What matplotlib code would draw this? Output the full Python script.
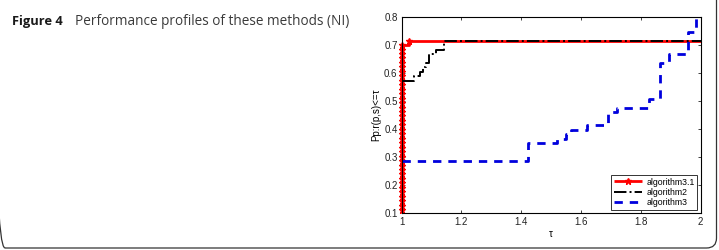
import matplotlib
matplotlib.use('Agg')
import matplotlib.pyplot as plt
from matplotlib.patches import FancyBboxPatch

plt.rcParams['font.family'] = ['Liberation Sans', 'DejaVu Sans']

n_problems = 63

# algorithm3.1 : (tau, number of problems solved within tau), only the visible part
tau_31 = [1.0] * 38 + [1.025, 2.0]
cnt_31 = [7, 8, 9, 10, 11, 12, 13, 14, 15, 16, 17, 18, 19, 20, 21, 22,
          23, 24, 25, 26, 27, 28, 29, 30, 31, 32, 33, 34, 35, 36, 37, 38, 39, 40, 41, 42,
          43, 44, 45, 45]

# algorithm2
tau_2 = [1.0, 1.04, 1.06, 1.07, 1.08, 1.09, 1.115, 1.14, 2.0]
cnt_2 = [36, 37, 38, 39, 40, 42, 43, 45, 45]

# algorithm3
tau_3 = [1.0, 1.423, 1.52, 1.548, 1.565, 1.62, 1.691, 1.72, 1.826, 1.865, 1.893, 1.959, 1.985, 2.0]
cnt_3 = [18, 22, 23, 24, 25, 26, 29, 30, 32, 40, 42, 47, 50, 50]

rho_31 = [c / n_problems for c in cnt_31]
rho_2 = [c / n_problems for c in cnt_2]
rho_3 = [c / n_problems for c in cnt_3]

W, H = 719, 250
fig = plt.figure(figsize=(W / 100, H / 100), dpi=100)

# rounded frame of the page box
frame = FancyBboxPatch((-5, 2), 721.5, 260, boxstyle='round,pad=0,rounding_size=10',
                       transform=None, fill=False, edgecolor='#333333', linewidth=0.9)
fig.patches.append(frame)

cap_font = ['Open Sans', 'DejaVu Sans']
fig.text(11.5 / W, 1 - 25 / H, 'Figure 4', fontsize=9.3, fontweight='bold',
         family=cap_font, color='#1a1a1a')
fig.text(75 / W, 1 - 25 / H, 'Performance profiles of these methods (NI)', fontsize=9.8,
         family=cap_font, color='#3a3a3a')

ax = fig.add_axes([401.7 / W, 1 - 213.3 / H, 299 / W, 196.8 / H])

ax.plot(tau_31, rho_31, color='#ff0000', linewidth=2.0, marker='*', markersize=5,
        markevery=list(range(len(tau_31) - 1)), drawstyle='steps-post',
        solid_capstyle='butt', label='algorithm3.1', clip_on=False)
ax.plot(tau_2, rho_2, color='black', linewidth=1.4, linestyle='-.',
        drawstyle='steps-post', label='algorithm2')
ax.plot(tau_3, rho_3, color='#0000dd', linewidth=2.0, linestyle=(0, (3, 2.5)),
        drawstyle='steps-post', label='algorithm3')

ax.set_xlim(1, 2)
ax.set_ylim(0.1, 0.8)
ax.set_xticks([1, 1.2, 1.4, 1.6, 1.8, 2])
ax.set_xticklabels(['1', '1.2', '1.4', '1.6', '1.8', '2'])
ax.set_yticks([0.1, 0.2, 0.3, 0.4, 0.5, 0.6, 0.7, 0.8])
ax.tick_params(direction='in', top=True, right=True, labelsize=7, length=2.5,
               width=0.6, pad=3, colors='#222222')
for s in ax.spines.values():
    s.set_linewidth(0.8)

ax.set_xlabel('τ', fontsize=7, labelpad=1)
ax.set_ylabel('Pp:r(p,s)<=τ', fontsize=7, labelpad=2)

leg = ax.legend(loc='lower right', fontsize=6.3, frameon=True, fancybox=False,
                edgecolor='black', handlelength=3.2, borderpad=0.3, labelspacing=0.15,
                handletextpad=0.5, borderaxespad=0.4, markerscale=1.0)
leg.get_frame().set_linewidth(0.7)

fig.savefig('out.png', dpi=100)
